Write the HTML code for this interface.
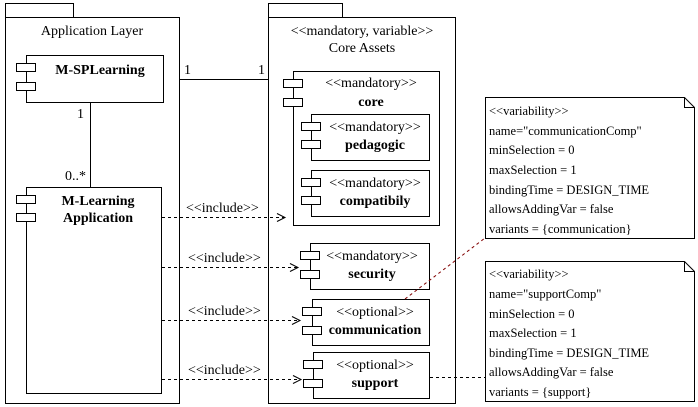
<!DOCTYPE html>
<html><head><meta charset="utf-8"><style>
html,body{margin:0;padding:0;background:#fff;}
svg{display:block;}
text{font-family:"Liberation Serif","Times New Roman",serif;font-size:14px;fill:#000;}
.b{font-weight:bold;font-size:14px;}
.n{font-size:12.5px;}
</style></head><body>
<svg width="698" height="407" viewBox="0 0 698 407" xmlns="http://www.w3.org/2000/svg">
<g fill="#fff" stroke="#000" stroke-width="1">
<rect x="5.5" y="3.5" width="68" height="14"/>
<rect x="5.5" y="17.5" width="174" height="386"/>
<rect x="268.5" y="3.5" width="74" height="14"/>
<rect x="268.5" y="17.5" width="187" height="386"/>
<rect x="26.5" y="55.5" width="137" height="47"/>
<rect x="16.5" y="63.5" width="19" height="8"/>
<rect x="16.5" y="82.5" width="19" height="8"/>
<rect x="26.5" y="187.5" width="135" height="206"/>
<rect x="16.5" y="195.5" width="19" height="8"/>
<rect x="16.5" y="213.5" width="19" height="8"/>
<rect x="293.5" y="71.5" width="146" height="154"/>
<rect x="283.5" y="79.5" width="19" height="8"/>
<rect x="283.5" y="98.5" width="19" height="8"/>
<rect x="311.5" y="114.5" width="118" height="46"/>
<rect x="301.5" y="122.5" width="19" height="8"/>
<rect x="301.5" y="140.5" width="19" height="8"/>
<rect x="311.5" y="170.5" width="118" height="46"/>
<rect x="301.5" y="178.5" width="19" height="8"/>
<rect x="301.5" y="196.5" width="19" height="8"/>
<rect x="310.5" y="243.5" width="119" height="46"/>
<rect x="300.5" y="251.5" width="19" height="8"/>
<rect x="300.5" y="270.5" width="19" height="8"/>
<rect x="312.5" y="299.5" width="117" height="46"/>
<rect x="302.5" y="307.5" width="19" height="8"/>
<rect x="302.5" y="326.5" width="19" height="8"/>
<rect x="313.5" y="352.5" width="116" height="46"/>
<rect x="303.5" y="360.5" width="19" height="8"/>
<rect x="303.5" y="379.5" width="19" height="8"/>
<path d="M485.5 97.5 H684.5 L694.5 107.5 V238.5 H485.5 Z"/>
<path d="M684.5 97.5 V107.5 H694.5" fill="none"/>
<path d="M485.5 261.5 H684.5 L694.5 271.5 V401.5 H485.5 Z"/>
<path d="M684.5 261.5 V271.5 H694.5" fill="none"/>
</g>
<g stroke="#000" fill="none">
<line x1="179" y1="79.5" x2="268" y2="79.5"/>
<line x1="90.5" y1="102" x2="90.5" y2="187"/>
<g stroke-dasharray="3,3">
<line x1="162" y1="217.5" x2="285" y2="217.5"/>
<line x1="162" y1="267.5" x2="298" y2="267.5"/>
<line x1="162" y1="320.5" x2="300" y2="320.5"/>
<line x1="162" y1="379.5" x2="301" y2="379.5"/>
<line x1="430" y1="377.5" x2="485" y2="377.5"/>
<line x1="405" y1="299" x2="485" y2="238" stroke="#800000"/>
</g>
<path d="M277 213.5 L285 217.5 L277 221.5"/>
<path d="M290 263.5 L298 267.5 L290 271.5"/>
<path d="M292 316.5 L300 320.5 L292 324.5"/>
<path d="M293 375.5 L301 379.5 L293 383.5"/>
</g>
<text x="92" y="35" text-anchor="middle">Application Layer</text>
<text x="362" y="35" text-anchor="middle">&lt;&lt;mandatory, variable&gt;&gt;</text>
<text x="362" y="52" text-anchor="middle">Core Assets</text>
<text x="100" y="74" text-anchor="middle" class="b">M-SPLearning</text>
<text x="98" y="205" text-anchor="middle" class="b">M-Learning</text>
<text x="98" y="222" text-anchor="middle" class="b">Application</text>
<text x="184" y="74">1</text>
<text x="258" y="74">1</text>
<text x="77" y="118">1</text>
<text x="65" y="180">0..*</text>
<text x="371" y="87" text-anchor="middle">&lt;&lt;mandatory&gt;&gt;</text>
<text x="371" y="106" text-anchor="middle" class="b">core</text>
<text x="375" y="131" text-anchor="middle">&lt;&lt;mandatory&gt;&gt;</text>
<text x="375" y="149" text-anchor="middle" class="b">pedagogic</text>
<text x="375" y="187" text-anchor="middle">&lt;&lt;mandatory&gt;&gt;</text>
<text x="375" y="205" text-anchor="middle" class="b">compatibily</text>
<text x="372" y="260" text-anchor="middle">&lt;&lt;mandatory&gt;&gt;</text>
<text x="372" y="278" text-anchor="middle" class="b">security</text>
<text x="375" y="316" text-anchor="middle">&lt;&lt;optional&gt;&gt;</text>
<text x="375" y="334" text-anchor="middle" class="b">communication</text>
<text x="375" y="369" text-anchor="middle">&lt;&lt;optional&gt;&gt;</text>
<text x="375" y="387" text-anchor="middle" class="b">support</text>
<text x="186" y="212">&lt;&lt;include&gt;&gt;</text>
<text x="188" y="262">&lt;&lt;include&gt;&gt;</text>
<text x="188" y="315">&lt;&lt;include&gt;&gt;</text>
<text x="188" y="374">&lt;&lt;include&gt;&gt;</text>
<text class="n" x="489" y="115">&lt;&lt;variability&gt;&gt;</text>
<text class="n" x="489" y="135">name="communicationComp"</text>
<text class="n" x="489" y="154">minSelection = 0</text>
<text class="n" x="489" y="174">maxSelection = 1</text>
<text class="n" x="489" y="194">bindingTime = DESIGN_TIME</text>
<text class="n" x="489" y="213">allowsAddingVar = false</text>
<text class="n" x="489" y="233">variants = {communication}</text>
<text class="n" x="489" y="278">&lt;&lt;variability&gt;&gt;</text>
<text class="n" x="489" y="298">name="supportComp"</text>
<text class="n" x="489" y="318">minSelection = 0</text>
<text class="n" x="489" y="337">maxSelection = 1</text>
<text class="n" x="489" y="357">bindingTime = DESIGN_TIME</text>
<text class="n" x="489" y="376">allowsAddingVar = false</text>
<text class="n" x="489" y="396">variants = {support}</text>
</svg>
</body></html>
